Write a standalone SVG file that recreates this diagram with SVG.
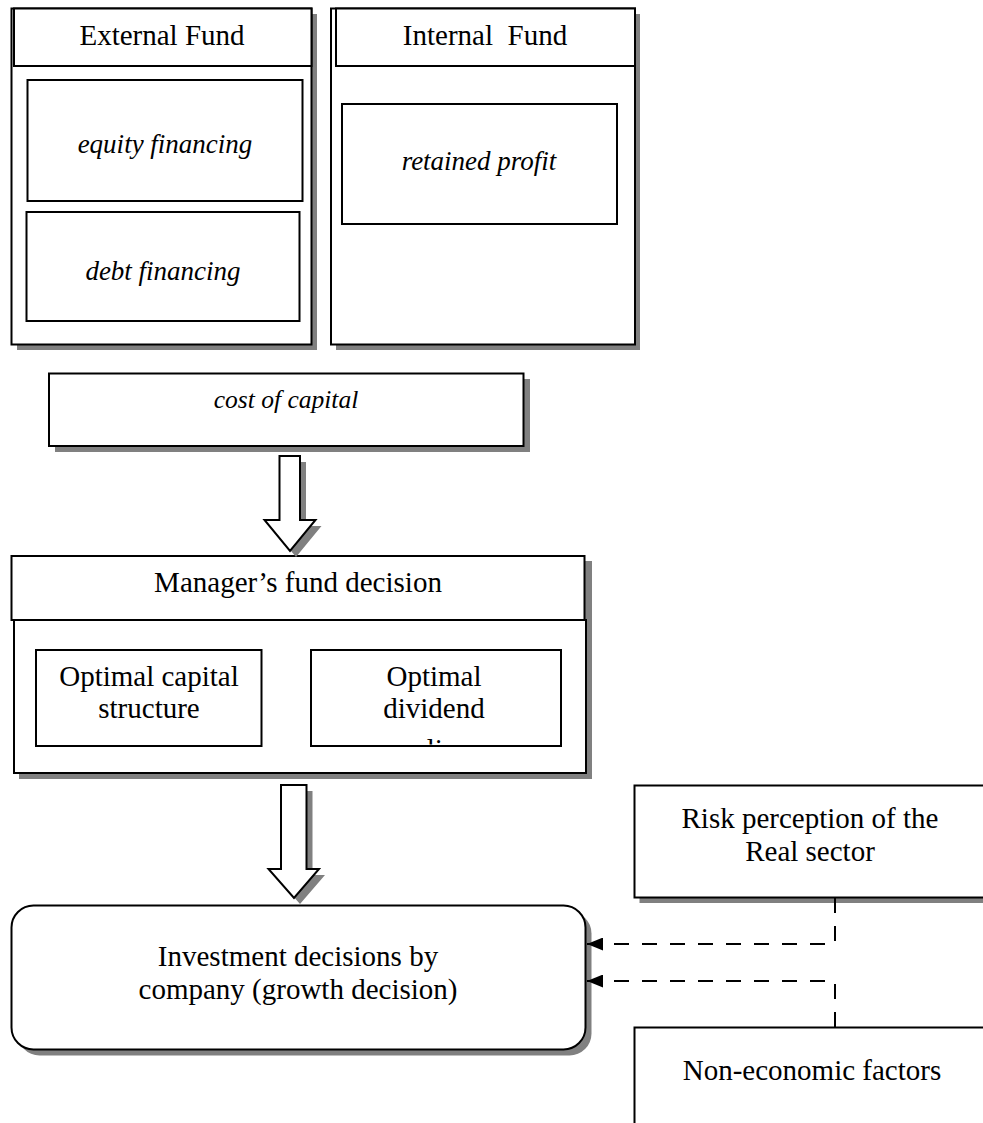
<svg xmlns="http://www.w3.org/2000/svg" width="983" height="1123" viewBox="0 0 983 1123">
<defs>
<style>
.box{fill:#fff;stroke:#000;stroke-width:2}
.sh{fill:#808080;stroke:none}
.t{font-family:"Liberation Serif","Times New Roman",serif;font-size:29px;fill:#000;text-anchor:middle;white-space:pre}
.ti{font-family:"Liberation Serif","Times New Roman",serif;font-size:27px;font-style:italic;fill:#000;text-anchor:middle}
.dash{fill:none;stroke:#000;stroke-width:2;stroke-dasharray:15 13}
</style>
<marker id="ah" viewBox="0 0 16 13" refX="16" refY="6.5" markerWidth="16" markerHeight="13" markerUnits="userSpaceOnUse" orient="auto">
<path d="M0,0 L16,6.5 L0,13 z" fill="#000"/>
</marker>
<clipPath id="divclip"><rect x="311" y="650" width="250" height="94.5"/></clipPath>
</defs>
<rect width="983" height="1123" fill="#fff"/>

<g id="external-fund">
<rect class="sh" x="17" y="14" width="300" height="336"/>
<rect class="box" x="11.5" y="8.5" width="300" height="336"/>
<rect class="box" x="14" y="8.5" width="297.5" height="57.5"/>
<text class="t" x="162" y="45">External Fund</text>
</g>
<g id="equity-financing">
<rect class="box" x="27.5" y="80" width="275" height="121"/>
<text class="ti" x="165" y="153">equity financing</text>
</g>
<g id="debt-financing">
<rect class="box" x="26.5" y="212" width="273" height="109"/>
<text class="ti" x="163" y="280">debt financing</text>
</g>

<g id="internal-fund">
<rect class="sh" x="336" y="14" width="304" height="336"/>
<rect class="box" x="331" y="8.5" width="304" height="336"/>
<rect class="box" x="336" y="8.5" width="299" height="57.5"/>
<text class="t" x="485" y="45">Internal  Fund</text>
</g>
<g id="retained-profit">
<rect class="box" x="342" y="104" width="275" height="120"/>
<text class="ti" x="479" y="170">retained profit</text>
</g>

<g id="cost-of-capital">
<rect class="sh" x="55" y="379" width="475" height="73"/>
<rect class="box" x="49" y="373.5" width="474.5" height="72.5"/>
<text class="ti" x="286" y="408" style="font-size:25.5px">cost of capital</text>
</g>

<g id="managers-fund-decision">
<rect class="sh" x="19" y="561" width="573" height="218"/>
<rect class="box" x="14" y="620" width="572" height="153"/>
<rect class="box" x="11.5" y="556" width="573" height="64"/>
<text class="t" x="298" y="592">Manager’s fund decision</text>
</g>
<g id="optimal-capital-structure">
<rect class="box" x="36" y="650" width="225.5" height="96"/>
<text class="t" x="149" y="686">Optimal capital</text>
<text class="t" x="149" y="718">structure</text>
</g>
<g id="optimal-dividend-policy">
<rect class="box" x="311" y="650" width="250" height="96"/>
<text class="t" x="434" y="686">Optimal</text>
<text class="t" x="434" y="718">dividend</text>
<text class="t" x="434" y="759" clip-path="url(#divclip)">policy</text>
</g>

<g id="investment-decisions">
<rect class="sh" x="17.5" y="911.5" width="574" height="144" rx="22" ry="22"/>
<rect class="box" x="11.5" y="905.5" width="574" height="144" rx="22" ry="22"/>
<text class="t" x="298" y="966">Investment decisions by</text>
<text class="t" x="298" y="999">company (growth decision)</text>
</g>

<g id="risk-perception">
<rect class="sh" x="639.5" y="791" width="360" height="112"/>
<rect class="box" x="634.5" y="785.5" width="360" height="112"/>
<text class="t" x="810" y="828">Risk perception of the</text>
<text class="t" x="810" y="861">Real sector</text>
</g>

<g id="non-economic-factors">
<rect class="box" x="634.5" y="1027.5" width="360" height="110"/>
<text class="t" x="812" y="1080">Non-economic factors</text>
</g>

<g id="connectors">
<polygon class="sh" points="285.5,462 306,462 306,526 321.5,526 296,557 270.5,526 285.5,526"/>
<polygon class="box" points="279.5,456 300,456 300,520 315.5,520 290,551 264.5,520 279.5,520" stroke-width="1.8"/>
<polygon class="sh" points="287,791 312.5,791 312.5,875 325,875 300,904 274.5,875 287,875"/>
<polygon class="box" points="281,785 306.5,785 306.5,869 319,869 294,898 268.5,869 281,869" stroke-width="1.8"/>
<path class="dash" d="M835,898 V944 H587" marker-end="url(#ah)"/>
<path class="dash" d="M835,1027 V981 H587" marker-end="url(#ah)"/>
</g>
</svg>
